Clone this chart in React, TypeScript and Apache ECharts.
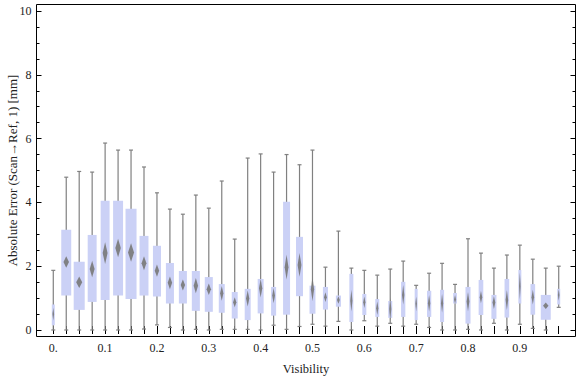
import React, { useEffect, useRef } from "react";
import * as echarts from "echarts";

const categories = [
  "0.", "0.025", "0.05", "0.075", "0.1", "0.125", "0.15", "0.175",
  "0.2", "0.225", "0.25", "0.275", "0.3", "0.325", "0.35", "0.375",
  "0.4", "0.425", "0.45", "0.475", "0.5", "0.525", "0.55", "0.575",
  "0.6", "0.625", "0.65", "0.675", "0.7", "0.725", "0.75", "0.775",
  "0.8", "0.825", "0.85", "0.875", "0.9", "0.925", "0.95", "0.975",
];
const whiskerHigh = [1.87, 4.79, 4.97, 4.95, 5.86, 5.64, 5.64, 5.11, 4.30, 3.79, 3.63, 4.23, 3.82, 4.67, 2.85, 5.39, 5.52, 4.95, 5.50, 5.18, 5.64, 1.97, 3.10, 1.94, 1.87, 1.72, 1.91, 2.16, 1.40, 1.78, 2.09, 1.43, 2.86, 2.41, 1.94, 2.35, 2.66, 2.22, 1.94, 2.00];
const q3 = [0.80, 3.14, 2.14, 2.98, 4.05, 4.05, 3.80, 2.95, 2.64, 2.10, 1.85, 1.85, 1.66, 1.44, 1.19, 1.29, 1.60, 1.35, 4.02, 2.92, 1.39, 1.35, 1.08, 1.76, 1.13, 0.97, 0.91, 1.51, 1.29, 1.23, 1.26, 1.16, 1.35, 1.57, 1.10, 1.60, 1.88, 1.44, 1.10, 1.29];
const median = [0.50, 2.13, 1.50, 1.91, 2.41, 2.57, 2.43, 2.09, 1.86, 1.48, 1.41, 1.39, 1.28, 1.15, 0.87, 0.99, 1.31, 1.08, 1.97, 2.04, 1.28, 1.03, 0.94, 0.92, 0.87, 0.68, 0.66, 1.10, 0.82, 0.84, 0.84, 0.96, 0.89, 1.03, 0.86, 0.94, 1.38, 1.03, 0.76, 1.10];
const q1 = [0.15, 1.08, 0.63, 0.88, 0.94, 1.08, 0.97, 1.08, 1.05, 0.83, 0.83, 0.60, 0.57, 0.54, 0.36, 0.31, 0.52, 0.45, 0.48, 1.06, 0.51, 0.64, 0.73, 0.25, 0.47, 0.41, 0.38, 0.41, 0.31, 0.41, 0.25, 0.83, 0.20, 0.47, 0.35, 0.39, 0.83, 0.48, 0.32, 0.80];
const whiskerLow = [0, 0, 0, 0, 0, 0, 0, 0.03, 0.16, 0.08, 0, 0.02, 0, 0.02, 0.02, 0.02, 0, 0.15, 0.02, 0.11, 0.18, 0.12, 0.27, 0, 0.29, 0.12, 0.21, 0.12, 0.18, 0.08, 0, 0, 0.02, 0, 0.21, 0, 0.18, 0.05, 0, 0.71];
const medianCI = [0.2, 0.18, 0.18, 0.26, 0.34, 0.29, 0.29, 0.22, 0.19, 0.2, 0.17, 0.24, 0.18, 0.23, 0.16, 0.25, 0.29, 0.24, 0.39, 0.37, 0.37, 0.15, 0.12, 0.34, 0.18, 0.21, 0.35, 0.31, 0.23, 0.26, 0.29, 0.14, 0.3, 0.19, 0.2, 0.31, 0.42, 0.23, 0.1, 0.18];
const boxWidthFrac = [0.23, 0.77, 0.85, 0.69, 0.69, 0.77, 0.85, 0.69, 0.62, 0.62, 0.62, 0.62, 0.62, 0.46, 0.46, 0.46, 0.46, 0.39, 0.54, 0.54, 0.46, 0.39, 0.39, 0.31, 0.31, 0.31, 0.31, 0.33, 0.23, 0.33, 0.31, 0.29, 0.39, 0.36, 0.39, 0.36, 0.23, 0.36, 0.77, 0.23];

const FONT = "Liberation Serif";
const TEXT = "#222";

export default function App() {
  const ref = useRef<HTMLDivElement>(null);
  useEffect(() => {
    if (!ref.current) return;
    const chart = echarts.init(ref.current, null, { renderer: "svg" });
    const data = categories.map((_, i) => [
      i, whiskerLow[i], q1[i], median[i], q3[i], whiskerHigh[i], medianCI[i], boxWidthFrac[i],
    ]);
    const renderItem = (params: any, api: any) => {
      const i = api.value(0);
      const band = api.size([1, 0])[0];
      const w = band * api.value(7);
      const pLow = api.coord([i, api.value(1)]);
      const pQ1 = api.coord([i, api.value(2)]);
      const pMed = api.coord([i, api.value(3)]);
      const pQ3 = api.coord([i, api.value(4)]);
      const pHigh = api.coord([i, api.value(5)]);
      const ci = api.value(6);
      const pCiT = api.coord([i, api.value(3) + ci]);
      const pCiB = api.coord([i, api.value(3) - ci]);
      const cx = pMed[0];
      const dw = w * 0.55;
      const capW = 2;
      const wStyle = { stroke: "#808080", lineWidth: 1.2 };
      return {
        type: "group",
        children: [
          { type: "line", shape: { x1: cx, y1: pLow[1], x2: cx, y2: pHigh[1] }, style: wStyle },
          { type: "line", shape: { x1: cx - capW, y1: pLow[1], x2: cx + capW, y2: pLow[1] }, style: wStyle },
          { type: "line", shape: { x1: cx - capW, y1: pHigh[1], x2: cx + capW, y2: pHigh[1] }, style: wStyle },
          {
            type: "rect",
            shape: { x: cx - w / 2, y: pQ3[1], width: w, height: pQ1[1] - pQ3[1] },
            style: { fill: "#cbd1f6" },
          },
          {
            type: "polygon",
            shape: {
              points: [
                [cx, pCiT[1]],
                [cx + dw / 2, pMed[1]],
                [cx, pCiB[1]],
                [cx - dw / 2, pMed[1]],
              ],
            },
            style: { fill: "#787878", opacity: 0.9 },
          },
        ],
      };
    };
    const labelStyle = { fontFamily: FONT, fontSize: 12, color: TEXT };
    chart.setOption({
      animation: false,
      grid: [
        { left: 46.8, top: 11, width: 518.4, height: 319, show: false, containLabel: false, outerBoundsMode: "none" },
        { left: 36.5, top: 4.5, width: 539, height: 332, show: true, borderColor: "#000", borderWidth: 1, backgroundColor: "transparent", containLabel: false, outerBoundsMode: "none" },
      ],
      xAxis: [
        {
          type: "category",
          gridIndex: 0,
          data: categories,
          position: "bottom",
          offset: 6.5,
          axisLine: { show: false },
          axisTick: { show: true, inside: true, length: 4, interval: 0, alignWithLabel: true, lineStyle: { color: "#000" } },
          axisLabel: { ...labelStyle, interval: 3, margin: 5 },
          splitLine: { show: false },
          name: "Visibility",
          nameLocation: "middle",
          nameGap: 26,
          nameMoveOverlap: false,
          nameTextStyle: { fontFamily: FONT, fontSize: 12.5, color: TEXT },
        },
        {
          type: "category",
          gridIndex: 0,
          data: categories,
          position: "top",
          offset: 6.5,
          axisLine: { show: false },
          axisTick: { show: true, inside: true, length: 4, interval: 0, alignWithLabel: true, lineStyle: { color: "#000" } },
          axisLabel: { show: false },
          splitLine: { show: false },
        },
        { type: "value", gridIndex: 1, show: false, min: 0, max: 1 },
      ],
      yAxis: [
        {
          type: "value",
          gridIndex: 0,
          min: 0,
          max: 10,
          interval: 2,
          position: "left",
          offset: 10.3,
          axisLine: { show: false },
          axisTick: { show: true, inside: true, length: 5, lineStyle: { color: "#000" } },
          minorTick: { show: true, splitNumber: 4, length: 3, lineStyle: { color: "#000" } },
          axisLabel: { ...labelStyle, margin: 5 },
          splitLine: { show: false },
          minorSplitLine: { show: false },
          name: "Absolute Error (Scan→Ref, 1) [mm]",
          nameLocation: "middle",
          nameGap: 18,
          nameMoveOverlap: false,
          nameRotate: 90,
          nameTextStyle: { fontFamily: FONT, fontSize: 13, color: TEXT },
        },
        {
          type: "value",
          gridIndex: 0,
          min: 0,
          max: 10,
          interval: 2,
          position: "right",
          offset: 10.3,
          axisLine: { show: false },
          axisTick: { show: true, inside: true, length: 5, lineStyle: { color: "#000" } },
          minorTick: { show: true, splitNumber: 4, length: 3, lineStyle: { color: "#000" } },
          axisLabel: { show: false },
          splitLine: { show: false },
          minorSplitLine: { show: false },
        },
        { type: "value", gridIndex: 1, show: false, min: 0, max: 1 },
      ],
      series: [
        {
          type: "custom",
          xAxisIndex: 0,
          yAxisIndex: 0,
          renderItem,
          data,
          encode: { x: 0, y: [1, 2, 3, 4, 5] },
          clip: false,
        },
      ],
    });
    return () => chart.dispose();
  }, []);
  return <div ref={ref} style={{ width: 576, height: 377, position: "absolute", left: 0, top: 0 }} />;
}
